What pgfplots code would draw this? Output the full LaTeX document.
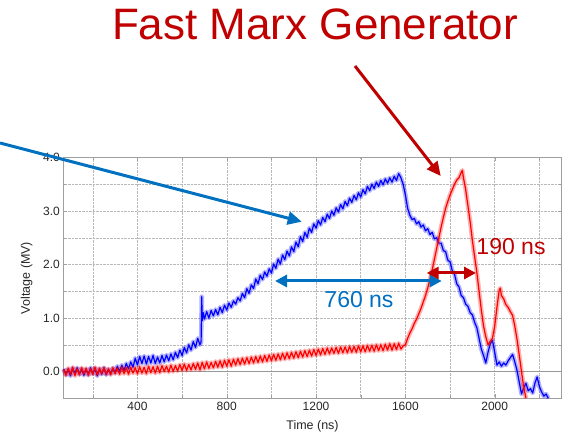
\documentclass[border=0pt]{standalone}
\usepackage{fontspec}
\setmainfont{Liberation Sans}
\usepackage{pgfplots}
\usepackage{pgfplotstable}
\pgfplotsset{compat=1.18}
\usetikzlibrary{arrows.meta}
\definecolor{tblue}{RGB}{0,0,255}
\definecolor{tred}{RGB}{255,0,0}
\definecolor{annblue}{RGB}{0,112,192}
\definecolor{annred}{RGB}{192,0,0}
\pgfplotstableread{
t v
70 0.05
80 -0.06
90 0.04
100 -0.08
110 0.06
120 -0.03
130 0.07
140 -0.05
150 0.05
160 -0.07
170 0.04
180 -0.06
190 0.07
200 -0.04
210 0.06
220 -0.08
230 0.05
240 -0.05
250 0.07
260 -0.06
270 0.04
280 -0.04
290 0.06
300 -0.02
310 0.10
320 0.00
330 0.12
340 0.02
350 0.15
360 0.05
370 0.18
380 0.08
390 0.25
400 0.12
410 0.28
420 0.15
430 0.29
440 0.14
450 0.28
460 0.16
470 0.30
480 0.15
490 0.27
500 0.16
510 0.30
520 0.18
530 0.31
540 0.20
550 0.33
560 0.22
570 0.36
580 0.26
590 0.40
600 0.30
610 0.45
620 0.35
630 0.50
640 0.40
650 0.56
660 0.45
670 0.62
680 0.50
685 0.55
688 1.40
690 0.95
695 1.10
700 0.98
710 1.12
720 1.00
730 1.14
740 1.04
750 1.16
760 1.06
770 1.20
780 1.10
790 1.24
800 1.15
810 1.28
820 1.20
830 1.32
840 1.26
850 1.38
860 1.32
870 1.46
880 1.38
890 1.55
900 1.46
910 1.62
920 1.55
930 1.73
940 1.64
950 1.80
960 1.72
970 1.86
980 1.78
990 1.92
1000 1.84
1010 2.01
1020 1.93
1030 2.10
1040 2.01
1050 2.18
1060 2.09
1070 2.25
1080 2.16
1090 2.33
1100 2.24
1110 2.42
1120 2.33
1130 2.52
1140 2.43
1150 2.60
1160 2.51
1170 2.68
1180 2.60
1190 2.76
1200 2.68
1210 2.82
1220 2.74
1230 2.88
1240 2.80
1250 2.94
1260 2.86
1270 3.00
1280 2.92
1290 3.06
1300 2.98
1310 3.12
1320 3.04
1330 3.18
1340 3.10
1350 3.24
1360 3.16
1370 3.29
1380 3.21
1390 3.34
1400 3.26
1410 3.40
1420 3.32
1430 3.46
1440 3.38
1450 3.50
1460 3.42
1470 3.54
1480 3.46
1490 3.57
1500 3.49
1510 3.60
1520 3.52
1530 3.62
1540 3.54
1550 3.65
1560 3.57
1570 3.70
1580 3.62
1590 3.50
1600 3.30
1610 3.05
1620 2.92
1630 2.84
1640 2.86
1650 2.76
1660 2.80
1670 2.70
1680 2.74
1690 2.63
1700 2.67
1710 2.56
1720 2.60
1730 2.48
1740 2.50
1750 2.40
1760 2.40
1770 2.26
1780 2.24
1790 2.08
1800 2.05
1810 1.88
1820 1.82
1830 1.64
1840 1.58
1850 1.42
1860 1.38
1870 1.26
1880 1.22
1890 1.10
1900 1.06
1910 0.92
1920 0.82
1930 0.62
1940 0.42
1950 0.30
1960 0.16
1970 0.36
1980 0.52
1990 0.58
2000 0.36
2010 0.12
2020 0.18
2030 0.10
2040 0.16
2050 0.12
2060 0.20
2070 0.26
2080 0.32
2090 0.18
2100 0.02
2110 -0.20
2120 -0.42
2130 -0.30
2140 -0.22
2150 -0.36
2160 -0.32
2170 -0.40
2180 -0.22
2190 -0.10
2200 -0.28
2210 -0.38
2220 -0.46
2230 -0.42
2240 -0.50
}\bluetrace
\pgfplotstableread{
t v
70 0.04
80 -0.07
90 0.06
100 -0.05
110 0.08
120 -0.08
130 0.05
140 -0.06
150 0.07
160 -0.04
170 0.06
180 -0.07
190 0.05
200 -0.05
210 0.08
220 -0.06
230 0.06
240 -0.04
250 0.07
260 -0.05
270 0.05
280 -0.06
290 0.07
300 -0.04
310 0.06
320 -0.05
330 0.08
340 -0.04
350 0.07
360 -0.05
370 0.08
380 -0.03
390 0.07
400 -0.04
410 0.09
420 -0.03
430 0.08
440 -0.04
450 0.10
460 -0.02
470 0.09
480 -0.03
490 0.10
500 -0.02
510 0.11
520 0.00
530 0.10
540 -0.01
550 0.12
560 0.00
570 0.11
580 0.01
590 0.13
600 0.02
610 0.14
620 0.02
630 0.13
640 0.03
650 0.15
660 0.04
670 0.16
680 0.03
690 0.17
700 0.05
710 0.18
720 0.06
730 0.17
740 0.07
750 0.19
760 0.08
770 0.20
780 0.08
790 0.21
800 0.10
810 0.22
820 0.10
830 0.23
840 0.12
850 0.24
860 0.13
870 0.25
880 0.14
890 0.26
900 0.15
910 0.27
920 0.16
930 0.28
940 0.17
950 0.29
960 0.18
970 0.30
980 0.19
990 0.31
1000 0.20
1010 0.32
1020 0.21
1030 0.33
1040 0.22
1050 0.34
1060 0.23
1070 0.35
1080 0.24
1090 0.36
1100 0.25
1110 0.37
1120 0.26
1130 0.38
1140 0.27
1150 0.39
1160 0.28
1170 0.40
1180 0.29
1190 0.41
1200 0.30
1210 0.42
1220 0.31
1230 0.43
1240 0.32
1250 0.44
1260 0.33
1270 0.44
1280 0.34
1290 0.45
1300 0.34
1310 0.46
1320 0.35
1330 0.46
1340 0.35
1350 0.47
1360 0.36
1370 0.47
1380 0.36
1390 0.48
1400 0.37
1410 0.48
1420 0.37
1430 0.49
1440 0.38
1450 0.49
1460 0.38
1470 0.50
1480 0.39
1490 0.50
1500 0.39
1510 0.51
1520 0.40
1530 0.52
1540 0.40
1550 0.52
1560 0.41
1570 0.53
1580 0.42
1590 0.48
1600 0.50
1610 0.62
1620 0.72
1630 0.80
1640 0.90
1650 0.98
1660 1.08
1670 1.18
1680 1.30
1690 1.42
1700 1.56
1710 1.72
1720 1.90
1730 2.10
1740 2.30
1750 2.50
1760 2.70
1770 2.88
1780 3.05
1790 3.18
1800 3.30
1810 3.40
1820 3.50
1830 3.58
1840 3.62
1850 3.72
1855 3.76
1860 3.62
1870 3.40
1880 3.10
1890 2.80
1900 2.45
1910 2.15
1920 1.85
1930 1.50
1940 1.15
1950 0.85
1960 0.65
1970 0.50
1980 0.56
1990 0.62
2000 0.85
2010 1.20
2020 1.52
2025 1.56
2030 1.42
2040 1.36
2050 1.25
2060 1.20
2070 1.12
2080 1.05
2090 0.85
2100 0.60
2110 0.30
2120 0.00
2130 -0.30
2140 -0.50
}\redtrace
\begin{document}
\begin{tikzpicture}
\path[use as bounding box] (0pt,0pt) rectangle (573pt,438pt);
\begin{axis}[
  at={(63.3pt,39.7pt)}, anchor=south west,
  scale only axis, width=498.4pt, height=240.8pt,
  xmin=68, xmax=2300, ymin=-0.5, ymax=4.0,
  xtick={400,800,...,2000}, minor xtick={200,600,...,2200},
  ytick={0,1,...,4}, minor ytick={-0.5,0.5,...,3.5},
  grid=both,
  major grid style={densely dotted, gray!55, line width=0.5pt},
  minor grid style={densely dotted, gray!55, line width=0.5pt},
  axis line style={gray!75, line width=0.8pt},
  tick style={gray!75},
  tick align=inside,
  major tick length=4pt, minor tick length=3pt,
  yticklabel style={/pgf/number format/.cd, fixed, fixed zerofill, precision=1},
  xticklabel style={/pgf/number format/.cd, fixed, 1000 sep={}},
  ticklabel style={font=\fontsize{12}{14}\selectfont, text=black!85},
  /pgf/number format/assume math mode=true,
  clip=false,
]
\draw[gray!80, line width=0.8pt] (axis cs:68,0) -- (axis cs:2300,0);
\addplot[tblue, line width=4.5pt, opacity=0.3, line join=round, forget plot] table[x=t,y=v] {\bluetrace};
\addplot[tblue, line width=1.2pt, line join=round] table[x=t,y=v] {\bluetrace};
\addplot[tred, line width=4.5pt, opacity=0.3, line join=round, forget plot] table[x=t,y=v] {\redtrace};
\addplot[tred, line width=1.2pt, line join=round] table[x=t,y=v] {\redtrace};
\end{axis}
% axis labels
\node[font=\fontsize{12.5}{14}\selectfont, text=black!85, rotate=90] at (26.7pt,160pt) {Voltage (MV)};
\node[font=\fontsize{12.5}{14}\selectfont, text=black!85] at (312.5pt,12pt) {Time (ns)};
% title
\node[font=\fontsize{44}{50}\selectfont, text=annred, anchor=base, inner sep=0pt] at (315pt,398.7pt) {Fast Marx Generator};
% annotation arrows
\draw[annblue, line width=3pt, -{Triangle[length=14pt,width=13pt]}] (0pt,295pt) -- (301.7pt,216.3pt);
\draw[annred, line width=3pt, -{Triangle[length=14pt,width=13pt]}] (355pt,372pt) -- (440.7pt,262pt);
\draw[annblue, line width=3pt, {Triangle[length=12pt,width=12pt]}-{Triangle[length=12pt,width=12pt]}] (275pt,157pt) -- (441.7pt,157pt);
\draw[annred, line width=3pt, {Triangle[length=12pt,width=12pt]}-{Triangle[length=12pt,width=12pt]}] (426.7pt,165pt) -- (476pt,165pt);
\node[font=\fontsize{23}{26}\selectfont, text=annblue] at (359pt,138pt) {760 ns};
\node[font=\fontsize{23}{26}\selectfont, text=annred] at (511pt,191pt) {190 ns};
\end{tikzpicture}
\end{document}
